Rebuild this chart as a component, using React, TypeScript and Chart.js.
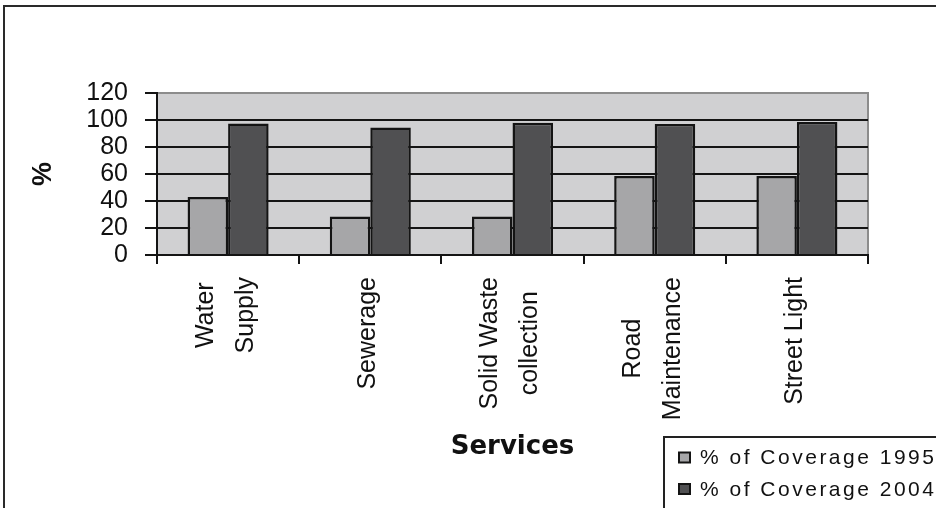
import React, { useEffect, useRef } from "react";
import { Chart, registerables } from "chart.js";

Chart.register(...registerables);

// ---- data ----
const categories: string[][] = [
  ["Water", "Supply"],
  ["Sewerage"],
  ["Solid Waste", "collection"],
  ["Road", "Maintenance"],
  ["Street Light"],
];
const coverage1995 = [43, 28.5, 28.5, 58.5, 58.5];
const coverage2004 = [97.5, 94.5, 98, 97, 98.5];
const seriesLabels = ["% of Coverage 1995", "% of Coverage 2004"];
const yMin = 0;
const yMax = 120;
const yStep = 20;
const xTitle = "Services";
const yTitle = "%";

const W = 936;
const H = 508;
const DARK = "#141414";
const FONT = '"Liberation Sans", Arial, sans-serif';

const decorPlugin = {
  id: "decor",
  beforeDraw(chart: any) {
    const { ctx, chartArea } = chart;
    ctx.save();
    ctx.fillStyle = "#ffffff";
    ctx.fillRect(0, 0, W, H);
    // outer frame (extends past the right/bottom edges)
    ctx.fillStyle = "#2a2a2a";
    ctx.fillRect(3, 5, 2, H);
    ctx.fillRect(3, 5, W, 2);
    // plot area background
    ctx.fillStyle = "#d0d0d2";
    ctx.fillRect(chartArea.left, chartArea.top, chartArea.right - chartArea.left, chartArea.bottom - chartArea.top);
    // right border of plot area
    ctx.fillStyle = "#8c8c8c";
    ctx.fillRect(chartArea.right - 1, chartArea.top - 1, 2, chartArea.bottom - chartArea.top + 1);
    ctx.restore();
  },
  afterDraw(chart: any) {
    const { ctx } = chart;
    const xs = chart.scales.x;
    // category labels, rotated, multi-line blocks centred on each category
    ctx.save();
    ctx.font = `25px ${FONT}`;
    ctx.fillStyle = "#111111";
    ctx.textBaseline = "middle";
    ctx.textAlign = "center";
    const lh = 40;
    (chart.data.labels as string[][]).forEach((lines, i) => {
      const cx = xs.getPixelForValue(i);
      const maxW = Math.max(...lines.map((l) => ctx.measureText(l).width));
      const cy = xs.top + 22 + maxW / 2;
      lines.forEach((l, j) => {
        const x = cx - 2 + (j - (lines.length - 1) / 2) * lh;
        ctx.save();
        ctx.translate(x, cy);
        ctx.rotate(-Math.PI / 2);
        ctx.fillText(l, 0, 0);
        ctx.restore();
      });
    });
    ctx.restore();

    // legend box
    ctx.save();
    const lx = 663;
    const ly = 436;
    ctx.fillStyle = "#222222";
    ctx.fillRect(lx, ly, 2, H - ly);
    ctx.fillRect(lx, ly, W - lx, 2);
    ctx.font = `21px ${FONT}`;
    try {
      (ctx as any).letterSpacing = "2.5px";
    } catch (e) {}
    ctx.textBaseline = "middle";
    ctx.textAlign = "left";
    const rows = [457.5, 489];
    chart.data.datasets.forEach((ds: any, i: number) => {
      const cy = rows[i];
      ctx.fillStyle = DARK;
      ctx.fillRect(678, cy - 6, 13, 12);
      ctx.fillStyle = ds.backgroundColor;
      ctx.fillRect(680, cy - 4, 9, 8);
      ctx.fillStyle = "#111111";
      ctx.fillText(ds.label, 700, cy + 1);
    });
    ctx.restore();
  },
};

export default function App() {
  const ref = useRef<HTMLCanvasElement | null>(null);

  useEffect(() => {
    if (!ref.current) return;
    const chart = new Chart(ref.current, {
      type: "bar",
      data: {
        labels: categories as any,
        datasets: [
          {
            label: seriesLabels[0],
            data: coverage1995,
            backgroundColor: "#a6a6a8",
            borderColor: DARK,
            borderWidth: 2.5,
            inflateAmount: 0,
          },
          {
            label: seriesLabels[1],
            data: coverage2004,
            backgroundColor: "#505052",
            borderColor: DARK,
            borderWidth: 2.5,
            inflateAmount: 0,
          },
        ],
      },
      options: {
        responsive: false,
        animation: false,
        devicePixelRatio: 1,
        events: [],
        layout: { padding: { left: 0, top: 93, right: 68, bottom: 0 } },
        datasets: { bar: { categoryPercentage: 0.57, barPercentage: 1 } },
        plugins: {
          legend: { display: false },
          tooltip: { enabled: false },
        },
        scales: {
          x: {
            type: "category",
            offset: true,
            afterFit: (s: any) => {
              s.height = 253;
            },
            grid: {
              offset: true,
              drawOnChartArea: false,
              drawTicks: true,
              tickLength: 9,
              tickColor: DARK,
              lineWidth: 2,
            },
            border: { color: DARK, width: 2 },
            ticks: { display: false },
            title: {
              display: true,
              text: xTitle,
              color: "#111111",
              font: { family: '"DejaVu Sans", Verdana, sans-serif', size: 26, weight: "bold" },
              padding: { top: 0, bottom: 45 },
            },
          },
          y: {
            min: yMin,
            max: yMax,
            afterFit: (s: any) => {
              s.width = 157;
            },
            ticks: {
              stepSize: yStep,
              autoSkip: false,
              color: "#111111",
              padding: 17,
              font: { family: FONT, size: 25, lineHeight: 1 },
            },
            grid: {
              color: (c: any) => (c.tick && c.tick.value === yMax ? "#8c8c8c" : DARK),
              lineWidth: 2,
              tickLength: 12,
              tickColor: DARK,
            },
            border: { color: DARK, width: 2 },
            title: {
              display: true,
              text: yTitle,
              color: "#111111",
              font: { family: FONT, size: 27, weight: "bold" },
              padding: { top: 27, bottom: 0 },
            },
          },
        },
      },
      plugins: [decorPlugin],
    });
    return () => chart.destroy();
  }, []);

  return (
    <div style={{ position: "fixed", left: 0, top: 0, width: W, height: H, background: "#fff" }}>
      <canvas ref={ref} width={W} height={H} style={{ display: "block", width: W, height: H }} />
    </div>
  );
}
